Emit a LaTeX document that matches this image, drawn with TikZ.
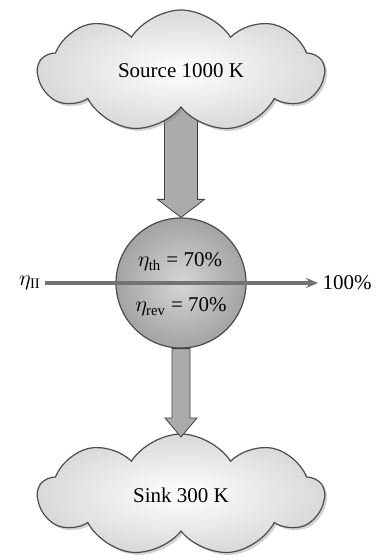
\documentclass[tikz,border=0pt]{standalone}
\usepackage{fontspec}
\setmainfont{Liberation Serif}
\usetikzlibrary{arrows.meta,shapes.symbols,shadows,calc}

\begin{document}
\begin{tikzpicture}[
  x=0.5pt, y=-0.5pt,
  font=\fontsize{10.5}{12}\selectfont,
  res/.style={cloud, cloud puffs=9, cloud puff arc=115, cloud ignores aspect,
              draw=black!70, semithick, minimum width=143pt, minimum height=61pt,
              inner color=white, outer color=black!15,
              drop shadow={shadow xshift=1.2pt, shadow yshift=-1.2pt, opacity=0.35}},
  eng/.style={circle, draw=black!70, semithick, minimum size=65pt,
              inner color=black!16, outer color=black!36},
  blk/.style={draw=black!75, fill=black!33, line join=miter},
  flow/.style={-{Stealth[length=6pt,width=5pt]}, line width=2pt, black!55},
  lbl/.style={inner sep=2pt},
]

  % --- page ---
  \useasboundingbox (0,0) rectangle (383,560);

  % --- engine and upper heat flow (under the source) ---
  \node[eng] (he) at (181,283) {};
  \coordinate (top) at (181,100);
  \draw[blk] ($(top)+(-16.5,0)$) -- ($(top)+(16.5,0)$)
    -- ($(he.north)+(16.5,-18)$) -- ($(he.north)+(23.5,-18)$) -- (he.north)
    -- ($(he.north)+(-23.5,-18)$) -- ($(he.north)+(-16.5,-18)$) -- cycle;

  % --- reservoirs ---
  \node[res, shape border rotate=10] (src) at (181,71)  {Source 1000 K};
  \node[res, shape border rotate=10] (snk) at (181,495) {Sink 300 K};

  % --- lower heat flow ---
  \draw[blk] ($(he.south)+(-9,0)$) -- ($(he.south)+(9,0)$)
    -- ($(snk.center)+(9,-77)$) -- ($(snk.center)+(16,-77)$) -- ($(snk.center)+(0,-58)$)
    -- ($(snk.center)+(-16,-77)$) -- ($(snk.center)+(-9,-77)$) -- cycle;

  % --- second-law efficiency scale ---
  \node[lbl] (e2)   at (30,283)  {$\eta_{\mathrm{II}}$};
  \node[lbl] (full) at (347,283) {100\%};
  \draw[flow] (e2.east) -- (full.west);

  % --- efficiencies ---
  \node[lbl] (eth)  at (180,262) {$\eta_{\mathrm{th}}$ = 70\%};
  \node[lbl] (erev) at (181,307) {$\eta_{\mathrm{rev}}$ = 70\%};

\end{tikzpicture}
\end{document}
